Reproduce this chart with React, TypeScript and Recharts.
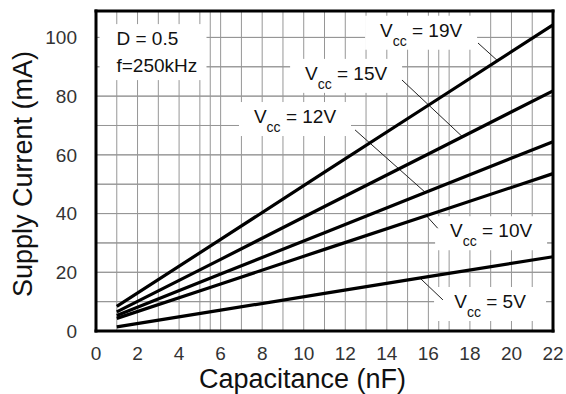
import React from 'react';
import {
  LineChart, Line, XAxis, YAxis, CartesianGrid, ReferenceLine,
} from 'recharts';

// capacitance (nF) and supply current (mA) per Vcc
const capacitance = [1, 6, 11, 16, 22];
const vcc19 = [8.4, 31.2, 54.1, 76.9, 104.3];
const vcc15 = [6.5, 24.4, 42.4, 60.3, 81.8];
const vcc12 = [5.3, 19.4, 33.5, 47.6, 64.5];
const vcc10 = [4.3, 16.0, 27.8, 39.5, 53.6];
const vcc5 = [1.4, 7.1, 12.8, 18.5, 25.3];

const xTicks = [0, 2, 4, 6, 8, 10, 12, 14, 16, 18, 20, 22];
const yTicks = [0, 20, 40, 60, 80, 100];
const gridX = [1, 2, 3, 4, 5, 6, 7, 8, 9, 10, 11, 12, 13, 14, 15, 16, 17, 18, 19, 20, 21];
const gridY = [10, 20, 30, 40, 50, 60, 70, 80, 90, 100];
const X_MAX = 22;
const Y_MAX = 109;

const data = capacitance.map((c, i) => ({
  c, v19: vcc19[i], v15: vcc15[i], v12: vcc12[i], v10: vcc10[i], v5: vcc5[i],
}));

// tag placement (data coords) and leader segments
const tags = [
  { volts: '19V', x: 15.65, y: 101.6, leader: [{ x: 18.39, y: 98.1 }, { x: 19.31, y: 92.2 }] },
  { volts: '15V', x: 12.04, y: 86.9, leader: [{ x: 14.73, y: 85.5 }, { x: 17.62, y: 66.3 }] },
  { volts: '12V', x: 9.58, y: 72.2, leader: [{ x: 12.47, y: 68.5 }, { x: 15.84, y: 47.3 }] },
  { volts: '10V', x: 19.02, y: 33.3, leader: [{ x: 15.9, y: 39.3 }, { x: 16.45, y: 35.0 }] },
  { volts: '5V', x: 18.97, y: 9.2, leader: [{ x: 15.6, y: 18.0 }, { x: 16.7, y: 10.6 }] },
];
const cond = { x: 2.72, y: 95 };

const frame = [
  [{ x: 0, y: 0 }, { x: X_MAX, y: 0 }],
  [{ x: 0, y: Y_MAX }, { x: X_MAX, y: Y_MAX }],
  [{ x: 0, y: 0 }, { x: 0, y: Y_MAX }],
  [{ x: X_MAX, y: 0 }, { x: X_MAX, y: Y_MAX }],
];

const FONT = '"Liberation Sans", Arial, Helvetica, sans-serif';
const GRID = 'rgb(150,150,150)';

// tiny invisible segment around a point, so its label can be drawn there
const spot = (x: number, y: number) => [{ x: x - 0.01, y }, { x: x + 0.01, y }];
const mid = (vb: any) => ({ cx: vb.x + vb.width / 2, cy: vb.y + vb.height / 2 });

function VccTag({ cx, cy, volts }: { cx: number; cy: number; volts: string }) {
  return (
    <g>
      <rect x={cx - 56} y={cy - 17} width={112} height={34} fill="#fff" />
      <text x={cx} y={cy + 4} textAnchor="middle" fontFamily={FONT} fontSize={19} fill="#111">
        V
        <tspan fontSize={14} dy={9}>cc</tspan>
        <tspan dy={-9}>{` = ${volts}`}</tspan>
      </text>
    </g>
  );
}

function CondTag({ cx, cy }: { cx: number; cy: number }) {
  return (
    <g>
      <rect x={cx - 53} y={cy - 28} width={107} height={56} fill="#fff" />
      <text x={cx - 36} y={cy - 7} fontFamily={FONT} fontSize={19} fill="#111">D = 0.5</text>
      <text x={cx - 36} y={cy + 20} fontFamily={FONT} fontSize={19} fill="#111">f=250kHz</text>
    </g>
  );
}

export default function App() {
  return (
    <div style={{ position: 'absolute', left: 0, top: 0, background: '#fff' }}>
      <LineChart
        width={566}
        height={394}
        data={data}
        margin={{ top: 11, right: 13, left: 0, bottom: 0 }}
      >
        <XAxis
          xAxisId="grid"
          type="number"
          domain={[0, X_MAX]}
          ticks={gridX}
          tickCount={23}
          interval={0}
          allowDataOverflow
          hide
        />
        <YAxis
          yAxisId="grid"
          type="number"
          domain={[0, Y_MAX]}
          ticks={gridY}
          tickCount={11}
          interval={0}
          allowDataOverflow
          hide
        />
        <CartesianGrid xAxisId="grid" yAxisId="grid" stroke={GRID} strokeWidth={1} strokeOpacity={1} />
        <XAxis
          type="number"
          dataKey="c"
          domain={[0, X_MAX]}
          ticks={xTicks}
          interval={0}
          height={63}
          tickSize={0}
          tickMargin={16}
          axisLine={false}
          tickLine={false}
          tick={{ fontSize: 19, fill: '#333', fontFamily: FONT }}
          label={{
            position: 'insideBottom',
            content: ({ viewBox }: any) => (
              <text
                x={viewBox.x + viewBox.width / 2 - 22}
                y={viewBox.y + 57}
                textAnchor="middle"
                fontFamily={FONT}
                fontSize={27}
                fill="#111"
              >
                Capacitance (nF)
              </text>
            ),
          }}
        />
        <YAxis
          type="number"
          domain={[0, Y_MAX]}
          ticks={yTicks}
          interval={0}
          width={96}
          tickSize={0}
          tickMargin={19}
          axisLine={false}
          tickLine={false}
          tick={{ fontSize: 19, fill: '#333', fontFamily: FONT }}
          label={{
            position: 'insideLeft',
            content: ({ viewBox }: any) => {
              const x = viewBox.x + 32;
              const y = viewBox.y + viewBox.height / 2 + 3;
              return (
                <text
                  x={x}
                  y={y}
                  transform={`rotate(-90, ${x}, ${y})`}
                  textAnchor="middle"
                  fontFamily={FONT}
                  fontSize={27}
                  fill="#111"
                >
                  Supply Current (mA)
                </text>
              );
            },
          }}
        />
        {gridX.map((v) => (
          <ReferenceLine
            key={`gx${v}`}
            segment={[{ x: v, y: 0 }, { x: v, y: Y_MAX }]}
            stroke={GRID}
            strokeWidth={1}
            ifOverflow="visible"
          />
        ))}
        {gridY.map((v) => (
          <ReferenceLine
            key={`gy${v}`}
            segment={[{ x: 0, y: v }, { x: X_MAX, y: v }]}
            stroke={GRID}
            strokeWidth={1}
            ifOverflow="visible"
          />
        ))}
        <ReferenceLine
          segment={spot(cond.x, cond.y)}
          stroke="none"
          ifOverflow="visible"
          label={{ content: ({ viewBox }: any) => <CondTag {...mid(viewBox)} /> }}
        />
        {tags.map((t) => (
          <ReferenceLine
            key={`t${t.volts}`}
            segment={spot(t.x, t.y)}
            stroke="none"
            ifOverflow="visible"
            label={{ content: ({ viewBox }: any) => <VccTag {...mid(viewBox)} volts={t.volts} /> }}
          />
        ))}
        {tags.map((t) => (
          <ReferenceLine
            key={`l${t.volts}`}
            segment={t.leader}
            stroke="#222"
            strokeWidth={1}
            ifOverflow="visible"
          />
        ))}
        <Line type="linear" dataKey="v19" stroke="#000" strokeWidth={3.2} dot={false} isAnimationActive={false} />
        <Line type="linear" dataKey="v15" stroke="#000" strokeWidth={3.2} dot={false} isAnimationActive={false} />
        <Line type="linear" dataKey="v12" stroke="#000" strokeWidth={3.2} dot={false} isAnimationActive={false} />
        <Line type="linear" dataKey="v10" stroke="#000" strokeWidth={3.2} dot={false} isAnimationActive={false} />
        <Line type="linear" dataKey="v5" stroke="#000" strokeWidth={3.2} dot={false} isAnimationActive={false} />
        {frame.map((seg, i) => (
          <ReferenceLine
            key={`f${i}`}
            segment={seg}
            stroke="#000"
            strokeWidth={3}
            strokeLinecap="square"
            ifOverflow="visible"
          />
        ))}
      </LineChart>
    </div>
  );
}
